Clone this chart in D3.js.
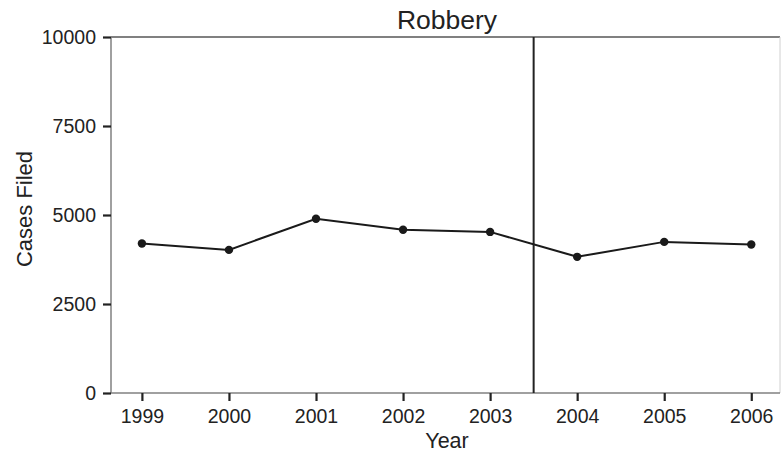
<!DOCTYPE html>
<html>
<head>
<meta charset="utf-8">
<script src="https://cdn.jsdelivr.net/npm/d3@7"></script>
<style>
  html, body { margin: 0; padding: 0; background: #fff; }
  svg text { font-family: "Liberation Sans", Arial, Helvetica, sans-serif; fill: #222; }
</style>
</head>
<body>
<svg id="chart" width="781" height="458"></svg>
<script>
// Robbery cases filed per year
const years = [1999, 2000, 2001, 2002, 2003, 2004, 2005, 2006];
const casesFiled = [4200, 4020, 4895, 4585, 4525, 3825, 4245, 4170];
const yTicks = [0, 2500, 5000, 7500, 10000];
const breakYear = 2003.5;

const svg = d3.select("#chart");
const margin = { left: 111, right: 780, top: 37, bottom: 393 };

const x = d3.scaleLinear().domain([1998.645, 2006.33]).range([margin.left, margin.right]);
const y = d3.scaleLinear().domain([0, 10000]).range([margin.bottom, margin.top]);

// frame: top and right edges
svg.append("line")
  .attr("x1", margin.left).attr("x2", margin.right)
  .attr("y1", margin.top).attr("y2", margin.top)
  .attr("stroke", "#808080").attr("stroke-width", 2);
svg.append("line")
  .attr("x1", margin.right).attr("x2", margin.right)
  .attr("y1", margin.top).attr("y2", margin.bottom)
  .attr("stroke", "#d0d0d0").attr("stroke-width", 1);

// x axis
const xAxis = svg.append("g")
  .attr("transform", `translate(0,${margin.bottom})`)
  .call(d3.axisBottom(x).tickValues(years).tickFormat(d3.format("d")).tickSize(8).tickPadding(8));
xAxis.select(".domain").attr("stroke", "#808080").attr("stroke-width", 1.5)
  .attr("d", `M${margin.left},0H${margin.right}`);
xAxis.selectAll(".tick line").attr("stroke", "#222").attr("stroke-width", 2.2);
xAxis.selectAll(".tick text").attr("font-size", 19.5).attr("fill", "#222");

// y axis
const yAxis = svg.append("g")
  .attr("transform", `translate(${margin.left},0)`)
  .call(d3.axisLeft(y).tickValues(yTicks).tickFormat(d3.format("d")).tickSize(8).tickPadding(7));
yAxis.select(".domain").attr("stroke", "#808080").attr("stroke-width", 1.5)
  .attr("d", `M0,${margin.top}V${margin.bottom}`);
yAxis.selectAll(".tick line").attr("stroke", "#222").attr("stroke-width", 2.2);
yAxis.selectAll(".tick text").attr("font-size", 19.5).attr("fill", "#222");

// vertical reference line between 2003 and 2004
svg.append("line")
  .attr("x1", x(breakYear)).attr("x2", x(breakYear))
  .attr("y1", margin.top).attr("y2", margin.bottom)
  .attr("stroke", "#222").attr("stroke-width", 2);

// series line and markers
const data = years.map((yr, i) => ({ year: yr, value: casesFiled[i] }));
svg.append("path")
  .datum(data)
  .attr("fill", "none")
  .attr("stroke", "#1a1a1a")
  .attr("stroke-width", 2)
  .attr("d", d3.line().x(d => x(d.year)).y(d => y(d.value)));
svg.selectAll("circle.pt")
  .data(data)
  .join("circle")
  .attr("class", "pt")
  .attr("cx", d => x(d.year))
  .attr("cy", d => y(d.value))
  .attr("r", 4.2)
  .attr("fill", "#1a1a1a");

// titles
svg.append("text")
  .attr("x", 447).attr("y", 29)
  .attr("text-anchor", "middle").attr("font-size", 26.5)
  .text("Robbery");
svg.append("text")
  .attr("x", 447).attr("y", 448)
  .attr("text-anchor", "middle").attr("font-size", 21.5)
  .text("Year");
svg.append("text")
  .attr("transform", `translate(32,209) rotate(-90)`)
  .attr("text-anchor", "middle").attr("font-size", 22)
  .text("Cases Filed");
</script>
</body>
</html>
